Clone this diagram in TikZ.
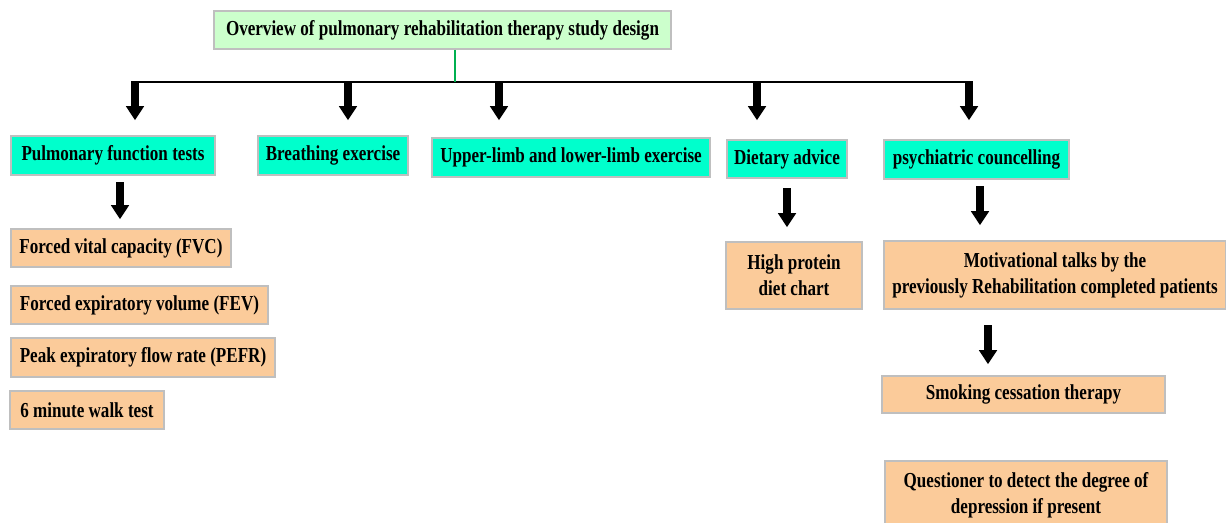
\documentclass[tikz,border=0pt]{standalone}
\usepackage{fontspec}
\setmainfont{Liberation Serif}[FakeStretch=0.8]
\usetikzlibrary{arrows.meta}

\definecolor{titlegreen}{RGB}{204,255,204}
\definecolor{stepcyan}{RGB}{0,255,204}
\definecolor{itempeach}{RGB}{251,203,154}
\definecolor{linkgreen}{RGB}{0,176,80}
\definecolor{boxgray}{RGB}{191,191,191}

\tikzset{every picture/.style={line width=0.75pt}}
\tikzset{
  basebox/.style={draw=boxgray, line width=1.2pt, inner sep=0.75pt, align=center,
    font=\fontsize{16}{19.5}\selectfont\bfseries},
  titlebox/.style={basebox, fill=titlegreen},
  stagebox/.style={basebox, fill=stepcyan},
  itembox/.style={basebox, fill=itempeach},
  boxsize/.style 2 args={minimum width=#1*0.75pt, minimum height=#2*0.75pt},
  blockarrow/.style={line width=6pt, -{Triangle[width=13pt,length=10.5pt]}},
}

\begin{document}
\begin{tikzpicture}[x=0.75pt,y=0.75pt,yscale=-1,xscale=1]
\useasboundingbox (0,0) rectangle (1226,522);

% Title
\node [titlebox, boxsize={457}{38}] (title) at (442.5,30) {Overview of pulmonary rehabilitation therapy study design};

% Stages
\node [stagebox, boxsize={204}{39}] (pft) at (113,155.5) {Pulmonary function tests};
\node [stagebox, boxsize={150}{39}] (breath) at (333,155.5) {Breathing exercise};
\node [stagebox, boxsize={278}{39}] (limb) at (571,157.5) {Upper-limb and lower-limb exercise};
\node [stagebox, boxsize={120}{38}] (diet) at (787,159) {Dietary advice};
\node [stagebox, boxsize={185}{39}] (psych) at (976.5,159.5) {psychiatric councelling};

% Pulmonary function tests items
\node [itembox, boxsize={220}{38}] (fvc) at (121,248) {Forced vital capacity (FVC)};
\node [itembox, boxsize={257}{38}] (fev) at (139.5,305) {Forced expiratory volume (FEV)};
\node [itembox, boxsize={264}{39}] (pefr) at (143,357.5) {Peak expiratory flow rate (PEFR)};
\node [itembox, boxsize={154}{38}] (walk) at (87,410) {6 minute walk test};

% Dietary advice item
\node [itembox, boxsize={136}{67}] (protein) at (794,275.5) {High protein\\diet chart};

% Psychiatric items
\node [itembox, boxsize={342}{68}] (talks) at (1055,275) {Motivational talks by the\\previously Rehabilitation completed patients};
\node [itembox, boxsize={283}{37}] (smoke) at (1023.5,394.5) {Smoking cessation therapy};
\node [itembox, boxsize={282}{68}] (quest) at (1026,495) {Questioner to detect the degree of\\depression if present};

% Bus line
\coordinate (busL) at (131,82);
\coordinate (busR) at (972,82);
\coordinate (busT) at (455,82);
\draw [line width=1.5pt] (busL) -- (busR);
\draw [linkgreen, line width=1.5pt] (busT |- title.south) -- (busT);

% Arrows from bus
\foreach \name/\xx/\gap in {pft/135/15, breath/348/15, limb/499/17, diet/757/19, psych/969/19}{
  \coordinate (top-\name) at (\xx,81);
  \draw [blockarrow, shorten >=\gap*0.75pt] (top-\name) -- (top-\name |- \name.north);
}

% Arrows below stages
\coordinate (pftArrow) at (120,182);
\draw [blockarrow, shorten >=9*0.75pt] (pftArrow) -- (pftArrow |- fvc.north);
\coordinate (dietArrow) at (787,188);
\draw [blockarrow, shorten >=14*0.75pt] (dietArrow) -- (dietArrow |- protein.north);
\coordinate (psychArrow) at (980,186);
\draw [blockarrow, shorten >=15*0.75pt] (psychArrow) -- (psychArrow |- talks.north);
\coordinate (talksArrow) at (988,325);
\draw [blockarrow, shorten >=11*0.75pt] (talksArrow) -- (talksArrow |- smoke.north);

\end{tikzpicture}
\end{document}
